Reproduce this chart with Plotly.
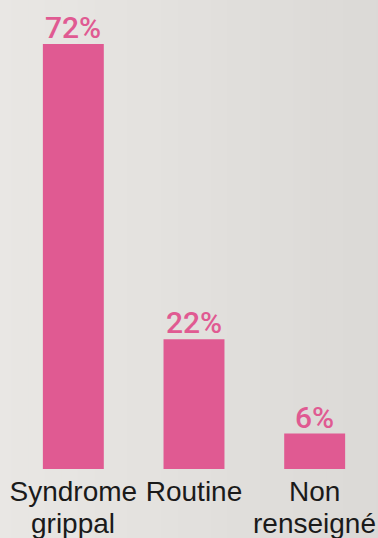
import plotly.graph_objects as go

categories = ["Syndrome grippal", "Routine", "Non renseigné"]
tick_line1 = ["Syndrome", "Routine", "Non"]
tick_line2 = ["grippal", "", "renseigné"]
values = [72, 22, 6]
labels = ["72%", "22%", "6%"]

pink = "#E05A92"
font_family = "Liberation Sans, Arial, sans-serif"

fig = go.Figure(go.Bar(
    x=categories, y=values,
    marker=dict(color=pink, line=dict(width=0)),
    cliponaxis=False, width=0.505, hoverinfo="skip",
))
for cat, v, lab in zip(categories, values, labels):
    fig.add_annotation(x=cat, y=v, xref="x", yref="y", text=lab, showarrow=False,
                       yanchor="bottom", xanchor="center", yshift=-3,
                       font=dict(family="Roboto, Liberation Sans, Arial, sans-serif",
                                 size=30, color=pink, weight=500))
for cat, line2 in zip(categories, tick_line2):
    if line2:
        fig.add_annotation(x=cat, y=0, xref="x", yref="y", text=line2, showarrow=False,
                           yanchor="top", xanchor="center", yshift=-37,
                           font=dict(family=font_family, size=28, color="#1a1a1a"))

# subtle left-to-right background shading
n_strips = 24
c0 = (233, 231, 228)
c1 = (219, 217, 214)
for i in range(n_strips):
    t = i / (n_strips - 1)
    col = tuple(round(a + (b - a) * t) for a, b in zip(c0, c1))
    fig.add_shape(type="rect", xref="paper", yref="paper", layer="below",
                  x0=-0.05 + i * 1.1 / n_strips, x1=-0.05 + (i + 1) * 1.1 / n_strips + 0.002,
                  y0=-0.2, y1=1.05, line=dict(width=0),
                  fillcolor="rgb(%d,%d,%d)" % col)

fig.update_layout(
    width=378, height=538,
    margin=dict(l=13, r=3, t=0, b=69, autoexpand=False),
    paper_bgcolor="#E3E1DE", plot_bgcolor="rgba(0,0,0,0)",
    showlegend=False,
    xaxis=dict(showgrid=False, zeroline=False, showline=False, ticks="", automargin=False,
               range=[-0.5, 2.5],
               tickmode="array", tickvals=categories, ticktext=tick_line1,
               tickfont=dict(family=font_family, size=28, color="#1a1a1a"),
               ticklabelstandoff=3),
    yaxis=dict(range=[0, 79.45], visible=False, automargin=False),
)
fig.write_html("out.html", config={"displayModeBar": False},
               post_script="document.body.style.margin='0';document.body.style.padding='0';document.body.style.overflow='hidden';")
